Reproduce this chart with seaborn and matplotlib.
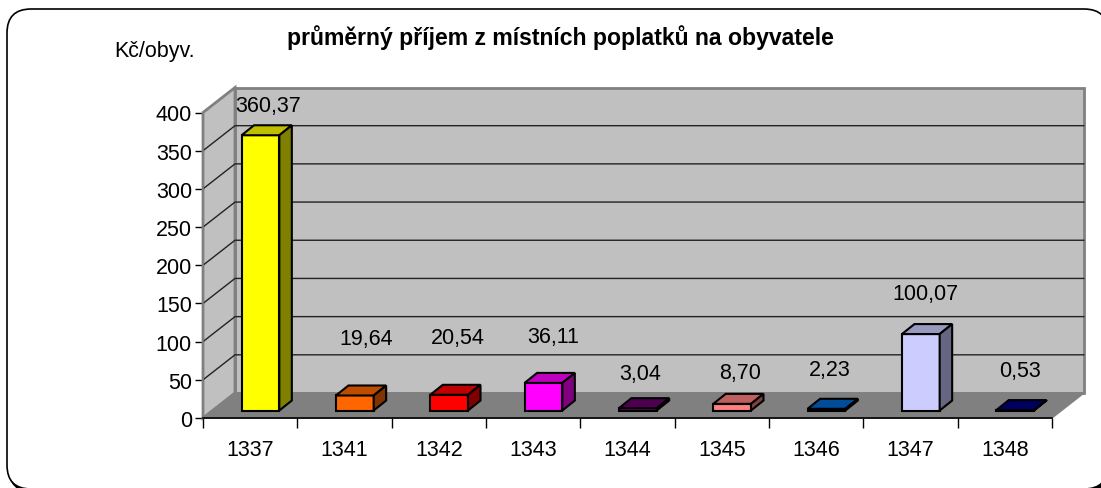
import matplotlib
matplotlib.use("Agg")
import matplotlib.pyplot as plt
from matplotlib.patches import FancyBboxPatch, Polygon
import seaborn as sns

categories = ["1337", "1341", "1342", "1343", "1344", "1345", "1346", "1347", "1348"]
values = [360.37, 19.64, 20.54, 36.11, 3.04, 8.70, 2.23, 100.07, 0.53]
value_labels = ["360,37", "19,64", "20,54", "36,11", "3,04", "8,70", "2,23", "100,07", "0,53"]
colors = ["#FFFF00", "#FF6600", "#FF0000", "#FF00FF", "#660066", "#FF8080", "#0066CC", "#CCCCFF", "#000080"]
y_ticks = [0, 50, 100, 150, 200, 250, 300, 350, 400]

# label offsets from the bar value, in pixels, Excel puts them a bit oddly
label_dx = [18, 22, 19, 20, 13, 18, 14, 15, 15]
label_dy = [37, 64, 65, 54, 42, 39, 47, 48, 47]

W, H = 1101, 489
LEFT, RIGHT, BASE, TOP = 203, 1052, 419, 113.5
FONT = 15.5

sns.set_theme(style="white")
plt.rcParams["font.family"] = ["Liberation Sans", "DejaVu Sans"]

fig = plt.figure(figsize=(W / 100, H / 100), dpi=100, facecolor="white")

# background axes in pixel coordinates for the frame and the titles
bg = fig.add_axes([0, 0, 1, 1])
bg.set_xlim(0, W)
bg.set_ylim(H, 0)
bg.axis("off")
# dark shadow shows at the bottom corners
bg.add_patch(FancyBboxPatch((9, 12), 1101, 481, boxstyle="round,pad=0,rounding_size=24",
                            fc="black", ec="black", lw=1, clip_on=False))
bg.add_patch(FancyBboxPatch((7, 10), 1101, 480, boxstyle="round,pad=0,rounding_size=24",
                            fc="white", ec="black", lw=1.2, clip_on=False))
bg.text(560, 38, "průměrný příjem z místních poplatků na obyvatele", ha="center", va="center",
        fontsize=16.6, fontweight="bold", color="black")
bg.text(155, 51, "Kč/obyv.", ha="center", va="center", fontsize=FONT, color="black")

ax = fig.add_axes([LEFT / W, 1 - BASE / H, (RIGHT - LEFT) / W, (BASE - TOP) / H])
ax.patch.set_alpha(0)

sns.barplot(x=categories, y=values, hue=categories, palette=colors, legend=False,
            width=0.4, saturation=1, edgecolor="black", linewidth=1.5, ax=ax, zorder=5)
ax.set_xlim(-0.5, 8.5)
ax.set_ylim(0, 400)

# pixel to data sizes
px_x = 9 / (RIGHT - LEFT)
px_y = 400 / (BASE - TOP)

wall_dx, wall_dy = 32 * px_x, 25 * px_y
front_dx, front_dy = 10.3 * px_x, 7.5 * px_y
depth_dx, depth_dy = 12.5 * px_x, 10 * px_y


def shade(color, k):
    r, g, b = matplotlib.colors.to_rgb(color)
    return (r * k, g * k, b * k)


# extruded bars, top and side faces come from each seaborn bar
for bar, color in zip(list(ax.patches), colors):
    bar.set_x(bar.get_x() + front_dx)
    bar.set_y(bar.get_y() + front_dy)
    x0, x1 = bar.get_x(), bar.get_x() + bar.get_width()
    y0, y1 = bar.get_y(), bar.get_y() + bar.get_height()
    top = [(x0, y1), (x1, y1), (x1 + depth_dx, y1 + depth_dy), (x0 + depth_dx, y1 + depth_dy)]
    side = [(x1, y0), (x1 + depth_dx, y0 + depth_dy), (x1 + depth_dx, y1 + depth_dy), (x1, y1)]
    ax.add_patch(Polygon(top, fc=shade(color, 0.75), ec="black", lw=1.5, zorder=5, clip_on=False))
    ax.add_patch(Polygon(side, fc=shade(color, 0.5), ec="black", lw=1.5, zorder=5, clip_on=False))
    bar.set_clip_on(False)

# walls and floor of the 3D box
x_a, x_b = -0.5, 8.5
ax.add_patch(Polygon([(x_a + wall_dx, wall_dy), (x_b + wall_dx, wall_dy),
                      (x_b + wall_dx, 400 + wall_dy), (x_a + wall_dx, 400 + wall_dy)],
                     fc="#C0C0C0", ec="#808080", lw=2, zorder=1, clip_on=False))
ax.add_patch(Polygon([(x_a, 0), (x_a + wall_dx, wall_dy), (x_a + wall_dx, 400 + wall_dy), (x_a, 400)],
                     fc="#C0C0C0", ec="#808080", lw=2, zorder=1, clip_on=False))
ax.add_patch(Polygon([(x_a, 0), (x_b, 0), (x_b + wall_dx, wall_dy), (x_a + wall_dx, wall_dy)],
                     fc="#808080", ec="#808080", lw=1, zorder=2, clip_on=False))

for t in y_ticks[1:-1]:
    ax.plot([x_a, x_a + wall_dx, x_b + wall_dx], [t, t + wall_dy, t + wall_dy],
            color="#222222", lw=1, zorder=3, clip_on=False)

for i, label in enumerate(value_labels):
    ax.annotate(label, (i, values[i]), xytext=(label_dx[i] * 0.72, label_dy[i] * 0.72),
                textcoords="offset points", ha="center", va="center",
                fontsize=FONT, color="black", zorder=6, annotation_clip=False)

ax.set_xlabel("")
ax.set_ylabel("")
ax.set_yticks(y_ticks)
ax.set_xticks(range(len(categories)))
ax.set_xticks([i - 0.5 for i in range(len(categories) + 1)], minor=True)
ax.tick_params(axis="x", which="major", length=0, pad=15, labelsize=FONT, colors="black")
ax.tick_params(axis="x", which="minor", length=7, width=1, color="black", bottom=True)
ax.tick_params(axis="y", length=6, width=1, color="black", left=True, pad=2, labelsize=FONT, labelcolor="black")

for name in ["top", "right"]:
    ax.spines[name].set_visible(False)
ax.spines["left"].set_color("#808080")
ax.spines["left"].set_linewidth(1.2)
ax.spines["bottom"].set_color("black")
ax.spines["bottom"].set_linewidth(1.2)
ax.spines["left"].set_zorder(4)
ax.spines["bottom"].set_zorder(4)

fig.savefig("out.png", dpi=100)
